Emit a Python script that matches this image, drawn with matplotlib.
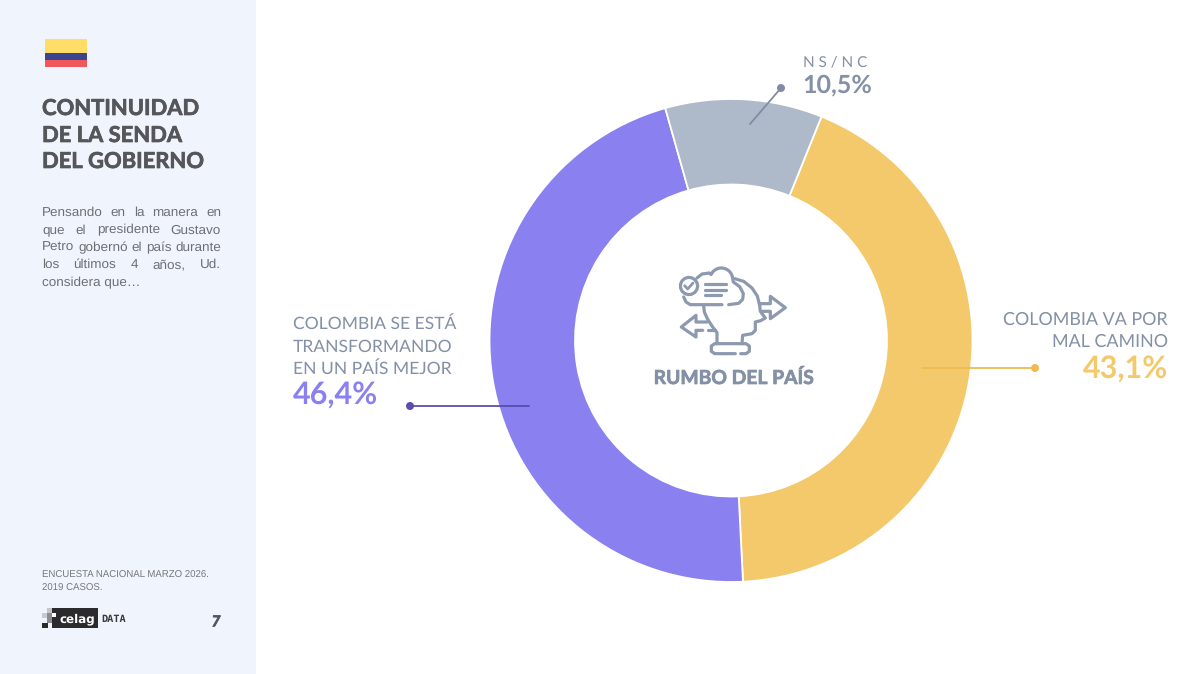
import matplotlib
matplotlib.use("Agg")
import matplotlib.patheffects as pe
import matplotlib.pyplot as plt
import numpy as np
from matplotlib.patches import Circle, Rectangle

plt.rcParams["text.hinting"] = "no_hinting"

categories = ["COLOMBIA VA POR\nMAL CAMINO", "COLOMBIA SE ESTÁ\nTRANSFORMANDO\nEN UN PAÍS MEJOR", "NS/NC"]
values = [43.1, 46.4, 10.5]
value_labels = ["43,1%", "46,4%", "10,5%"]
colors = ["#F4C96B", "#8A80F0", "#AEB9C9"]

title_lines = ["CONTINUIDAD", "DE LA SENDA", "DEL GOBIERNO"]
body_lines = [
    "Pensando en la manera en",
    "que el presidente Gustavo",
    "Petro gobernó el país durante",
    "los últimos 4 años, Ud.",
    "considera que…",
]
footer_lines = ["ENCUESTA NACIONAL MARZO 2026.", "2019 CASOS."]

GREY = "#8390A5"
CX, CY, R_OUT, R_IN = 731, 340.5, 241.5, 156

fig = plt.figure(figsize=(12, 6.74), dpi=100, facecolor="white")

# donut
ax_pie = fig.add_axes([(CX - 250) / 1200, (674 - CY - 250) / 674, 500 / 1200, 500 / 674])
ax_pie.pie(values, colors=colors, radius=R_OUT, startangle=68, counterclock=False,
           frame=False, wedgeprops=dict(width=R_OUT - R_IN, edgecolor="white", linewidth=1.3))
ax_pie.set_xlim(-250, 250)
ax_pie.set_ylim(-250, 250)
ax_pie.axis("off")

# everything else lives in pixel coords
ax = fig.add_axes([0, 0, 1, 1], facecolor="none")
ax.set_xlim(0, 1200)
ax.set_ylim(674, 0)
ax.axis("off")

ax.add_patch(Rectangle((0, 0), 256, 674, color="#F0F4FC", lw=0))

# flag
ax.add_patch(Rectangle((45, 39), 42, 14, color="#FFDD66", lw=0))
ax.add_patch(Rectangle((45, 53), 42, 7, color="#3D4590", lw=0))
ax.add_patch(Rectangle((45, 60), 42, 7, color="#F0575B", lw=0))

# the reference type is heavier than Lato Bold, a thin stroke makes up for it
heavier = [pe.withStroke(linewidth=0.5, foreground="#55565A")]
for line, y in zip(title_lines, [115, 142, 168]):
    ax.text(42, y, line, family="Lato", weight="bold", fontsize=15.8, color="#55565A", va="baseline",
            path_effects=heavier)


def justified(line, x0, x1, y, **kw):
    words = line.split(" ")
    rend = fig.canvas.get_renderer()
    items = [ax.text(0, y, w, va="baseline", **kw) for w in words]
    widths = [t.get_window_extent(rend).width for t in items]
    gap = (x1 - x0 - sum(widths)) / (len(words) - 1)
    x = x0
    for t, w in zip(items, widths):
        t.set_x(x)
        x += w + gap


body_kw = dict(family="Liberation Sans", fontsize=9.7, color="#6E6F73")
for i, (line, y) in enumerate(zip(body_lines, [216, 233.5, 251, 268, 286])):
    if i < 4:
        justified(line, 42, 221, y, **body_kw)
    else:
        ax.text(42, y, line, va="baseline", **body_kw)

for line, y in zip(footer_lines, [578, 591]):
    ax.text(42, y, line, family="Liberation Sans", fontsize=6.9, color="#77787C", va="baseline")

ax.text(216, 626.5, "7", family="Lato", weight="bold", style="italic", fontsize=11,
        color="#55565A", ha="center", va="baseline", path_effects=heavier)

# logo
ax.add_patch(Rectangle((52, 608), 46, 20, color="#2B2B2E", lw=0))
ax.add_patch(Rectangle((42, 623), 6, 5, color="#2B2B2E", lw=0))
ax.add_patch(Rectangle((42, 613), 5, 5, color="#C9CACD", lw=0))
ax.add_patch(Rectangle((47, 608), 5, 5, color="#C4C5C8", lw=0))
ax.add_patch(Rectangle((47, 613), 5, 10, color="#8C8D90", lw=0))
ax.add_patch(Rectangle((52, 613), 4, 4, color="white", lw=0))
ax.text(77, 622, "celag", family="DejaVu Sans", weight="bold", fontsize=8.6, color="white",
        ha="center", va="baseline")
ax.text(101, 622.5, "DATA", family="DejaVu Sans Mono", weight="bold", fontsize=7.4, color="#3A3A3D",
        va="baseline")

# labels
label_kw = dict(family="Lato", color=GREY, va="baseline")
for line, y in zip(categories[1].split("\n"), [329, 352, 374]):
    ax.text(293, y, line, ha="left", fontsize=12.6, **label_kw)
for line, y in zip(categories[0].split("\n"), [325, 347]):
    ax.text(1168, y, line, ha="right", fontsize=12.9, **label_kw)
ax.text(803, 66, "N S / N C", ha="left", fontsize=11, **label_kw)

ax.text(293, 405, value_labels[1], family="Lato", weight="bold", fontsize=22, color=colors[1], va="baseline")
ax.text(1168, 379, value_labels[0], family="Lato", weight="bold", fontsize=22, color=colors[0],
        ha="right", va="baseline")
ax.text(802, 92, value_labels[2], family="Lato", weight="bold", fontsize=18, color=GREY, va="baseline")

# leader lines
leaders = [
    ((922, 368), (1035, 368), "#EDBB50"),
    ((529, 406), (410, 406), "#5A4DB0"),
    ((750, 124), (781, 88), "#7F8CA3"),
]
for (x0, y0), (x1, y1), c in leaders:
    ax.plot([x0, x1], [y0, y1], color=c, lw=1.3, solid_capstyle="round")
    ax.add_patch(Circle((x1, y1), 4, color=c, lw=0))

ax.text(733.5, 384, "RUMBO DEL PAÍS", family="Lato", weight="bold", fontsize=13.9, color=GREY,
        ha="center", va="baseline", path_effects=[pe.withStroke(linewidth=0.5, foreground=GREY)])

ICON = "#8C99AF"


def icon_line(pts, lw=2.3):
    pts = np.array(pts, dtype=float)
    ax.plot(672 + pts[:, 0] / 3, 262 + pts[:, 1] / 3, color=ICON, lw=lw,
            solid_capstyle="round", solid_joinstyle="round")


def bump(cx, cy, r, a0, a1):
    a = np.radians(np.linspace(a0, a1, 16))
    return list(zip(cx + r * np.cos(a), cy + r * np.sin(a)))


# check circle and tick
icon_line(bump(51, 72, 26, 0, 360))
icon_line([(38, 71), (47, 81), (63, 63)], lw=2)
# cloud
icon_line([(75, 48), (90, 36), (112, 33)] + bump(148, 52, 34, 205, 345) + [(184, 60), (203, 74), (214, 95),
           (212, 112), (200, 124), (170, 128)])
icon_line([(150, 128), (55, 128), (42, 120), (35, 105)])
# text rows
icon_line([(98, 66), (163, 66)])
icon_line([(98, 83), (163, 83)])
icon_line([(98, 100), (148, 100)])
# head
icon_line([(188, 50), (215, 58), (240, 78), (256, 102), (263, 130), (265, 148), (280, 168),
           (266, 176), (250, 180), (250, 205), (240, 215), (212, 220), (210, 245)])
icon_line([(95, 130), (97, 150), (107, 172), (122, 195), (135, 212), (135, 245)])
# base
icon_line([(190, 275), (128, 275), (118, 268), (118, 252), (128, 245), (222, 245), (232, 252),
           (232, 268), (222, 275), (206, 275)])
# arrows
icon_line([(262, 125), (295, 125), (295, 103), (340, 137), (295, 170), (295, 148), (272, 148)])
icon_line([(105, 180), (72, 180), (72, 160), (28, 195), (72, 225), (72, 205), (92, 205)])
icon_line([(108, 205), (130, 205)])

fig.savefig("out.png", dpi=100)
